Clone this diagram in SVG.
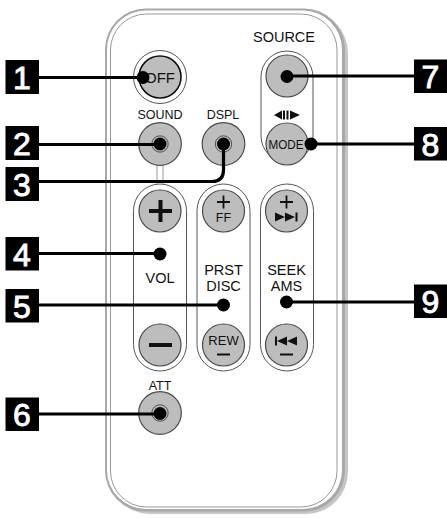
<svg xmlns="http://www.w3.org/2000/svg" width="447" height="518" viewBox="0 0 447 518">
<style>
text{font-family:"Liberation Sans",Arial,sans-serif;fill:#111;text-anchor:middle}
.s{font-size:12.5px}.m{font-size:14.5px}
.tag rect{fill:#000}
.tag text{fill:#fff;font-size:32px;stroke:#fff;stroke-width:.9}
.pill{fill:#fff;stroke:#555;stroke-width:1}
.btn{fill:#bdbdbd;stroke:#4a4a4a;stroke-width:1.2}
.ring{fill:#bdbdbd;stroke:#333;stroke-width:.8}
.dot{fill:#000}
.line{fill:none;stroke:#000;stroke-width:3.2}
.g{fill:#111}
</style>
<defs>
<g id="jack"><circle r="21.3" class="btn"/><circle r="8.2" class="ring"/></g>
</defs>
<g id="body">
<rect x="108" y="11" width="240" height="503" rx="42" fill="#c6c6c6"/>
<rect x="105" y="8.5" width="240" height="503" rx="41" fill="#a8a8a8"/>
<rect x="107" y="10.500" width="235" height="498.500" rx="39" fill="#fff"/>
<rect x="110.500" y="14" width="226.500" height="493" rx="36" fill="#fff" stroke="#999" stroke-width="1"/>
<path d="M157 165V184M163 165V184" stroke="#999" stroke-width="1" fill="none"/>
</g>
<g id="pills">
<rect class="pill" x="133.500" y="184" width="53" height="187" rx="26.500"/>
<rect class="pill" x="197" y="184" width="53" height="187" rx="26.500"/>
<rect class="pill" x="260.500" y="184" width="53" height="187" rx="26.500"/>
<rect class="pill" x="261" y="51" width="52" height="111" rx="26"/>
</g>
<g id="btn-off"><circle cx="160" cy="77" r="26.500" fill="#fff" stroke="#555"/><circle cx="160" cy="77" r="21" fill="#bdbdbd" stroke="#111" stroke-width="1.600"/><text x="160" y="83" font-size="15px">OFF</text></g>
<g id="btn-sound"><text class="s" x="160" y="119">SOUND</text><use href="#jack" x="160" y="144"/></g>
<g id="btn-dspl"><text class="s" x="223" y="119">DSPL</text><use href="#jack" x="223.500" y="144"/></g>
<g id="btn-source"><text class="m" x="284" y="42">SOURCE</text><circle class="btn" cx="287" cy="76" r="21"/></g>
<g id="btn-mode"><path class="g" d="M274 115l8-4.500v9zM283 110.500h2v9h-2zM286.500 110.500h2v9h-2zM300 115l-10-4.500v9z"/><circle class="btn" cx="287" cy="144" r="21"/><text x="286" y="149" font-size="12.500px" textLength="35" lengthAdjust="spacingAndGlyphs">MODE</text></g>
<g id="btn-vol"><circle class="btn" cx="160" cy="211" r="21"/><path d="M149 211h23M160.500 200v22" stroke="#111" stroke-width="4" fill="none"/><text class="m" x="160" y="283">VOL</text><circle class="btn" cx="160" cy="345" r="21"/><path d="M149 345h23" stroke="#111" stroke-width="4" fill="none"/></g>
<g id="btn-prst"><circle class="btn" cx="223.500" cy="211" r="21"/><path d="M217 202h13M223.500 195.500v13" stroke="#111" stroke-width="1.800" fill="none"/><text class="s" x="223.500" y="222">FF</text><text class="m" x="223.500" y="275">PRST</text><text class="m" x="223.500" y="291">DISC</text><circle class="btn" cx="223.500" cy="345" r="21"/><text x="223.500" y="345" font-size="13px">REW</text><path d="M217 354.500h13" stroke="#111" stroke-width="2" fill="none"/></g>
<g id="btn-seek"><circle class="btn" cx="286.500" cy="211" r="21"/><path d="M280 202h13M286.500 195.500v13" stroke="#111" stroke-width="1.800" fill="none"/><path class="g" d="M275 212.500l10 4.500-10 4.500zM285 212.500l10 4.500-10 4.500zM295.500 212.500h2v9h-2z"/><text class="m" x="286.500" y="275">SEEK</text><text class="m" x="286.500" y="291">AMS</text><circle class="btn" cx="286.500" cy="345" r="21"/><path class="g" d="M275 336.500h2v9h-2zM287 336.500v9l-10-4.500zM297 336.500v9l-10-4.500z"/><path d="M280 354.500h13" stroke="#111" stroke-width="2" fill="none"/></g>
<g id="btn-att"><text class="s" x="160" y="390">ATT</text><use href="#jack" x="160" y="413"/></g>
<g id="connectors">
<path class="line" d="M39 77.500H143"/>
<path class="line" d="M39 144.500H160"/>
<path class="line" d="M39 181.500H212Q223.500 181.500 223.500 170V144"/>
<path class="line" d="M39 253.500H160"/>
<path class="line" d="M39 305H223"/>
<path class="line" d="M39 414H160"/>
<path class="line" d="M287 76H414"/>
<path class="line" d="M311 144H414"/>
<path class="line" d="M286.500 302H414"/>
<circle class="dot" cx="143" cy="77.500" r="6.500"/>
<circle class="dot" cx="160" cy="144" r="6.500"/>
<circle class="dot" cx="223.500" cy="144" r="6.500"/>
<circle class="dot" cx="160" cy="254" r="6.500"/>
<circle class="dot" cx="223.500" cy="305" r="6.500"/>
<circle class="dot" cx="160" cy="413.500" r="6.500"/>
<circle class="dot" cx="287" cy="76.500" r="6.500"/>
<circle class="dot" cx="311" cy="144" r="6.500"/>
<circle class="dot" cx="286.500" cy="302" r="6.500"/>
</g>
<g id="tag1" class="tag"><rect x="5.500" y="60" width="33.500" height="34"/><text x="22" y="88.500">1</text></g>
<g id="tag2" class="tag"><rect x="5.500" y="126" width="33.500" height="34"/><text x="22" y="154.500">2</text></g>
<g id="tag3" class="tag"><rect x="5.500" y="167" width="33.500" height="34"/><text x="22" y="195.500">3</text></g>
<g id="tag4" class="tag"><rect x="5.500" y="237" width="33.500" height="33.500"/><text x="22" y="265.500">4</text></g>
<g id="tag5" class="tag"><rect x="5.500" y="289" width="33.500" height="33.500"/><text x="22" y="317.500">5</text></g>
<g id="tag6" class="tag"><rect x="5.500" y="397.500" width="33.500" height="33.500"/><text x="22" y="425.500">6</text></g>
<g id="tag7" class="tag"><rect x="414" y="59.500" width="33" height="33.500"/><text x="430.500" y="88">7</text></g>
<g id="tag8" class="tag"><rect x="414" y="127" width="33" height="33.500"/><text x="430.500" y="155.500">8</text></g>
<g id="tag9" class="tag"><rect x="414" y="284.500" width="33" height="33.500"/><text x="430.500" y="313">9</text></g>
</svg>
